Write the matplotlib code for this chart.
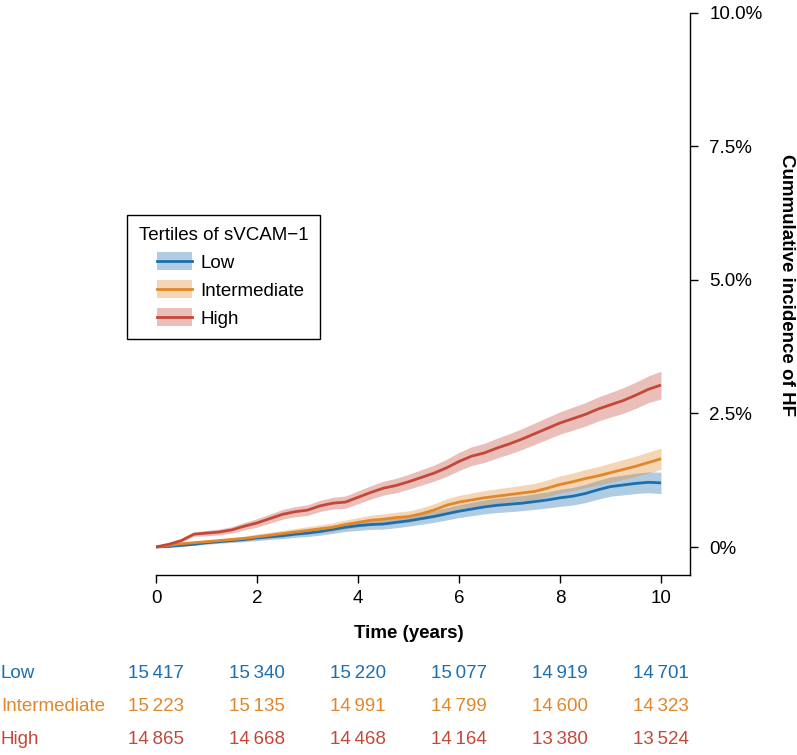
import matplotlib
matplotlib.use("Agg")
import matplotlib.pyplot as plt
from matplotlib.patches import Rectangle
from matplotlib.lines import Line2D
from matplotlib.transforms import blended_transform_factory

plt.rcParams['font.family'] = ['Liberation Sans', 'DejaVu Sans']

# ---------------- data ----------------
time = [0, 0.25, 0.5, 0.75, 1.0, 1.25, 1.5, 1.75, 2.0, 2.25, 2.5, 2.75, 3.0, 3.25,
        3.5, 3.75, 4.0, 4.25, 4.5, 4.75, 5.0, 5.25, 5.5, 5.75, 6.0, 6.25, 6.5, 6.75,
        7.0, 7.25, 7.5, 7.75, 8.0, 8.25, 8.5, 8.75, 9.0, 9.25, 9.5, 9.75, 10.0]

low = [0, 0.01, 0.03, 0.05, 0.08, 0.10, 0.12, 0.14, 0.17, 0.19, 0.21, 0.24, 0.26, 0.29,
       0.33, 0.37, 0.40, 0.42, 0.43, 0.46, 0.49, 0.53, 0.57, 0.62, 0.67, 0.71, 0.75, 0.78,
       0.80, 0.82, 0.85, 0.88, 0.92, 0.95, 1.00, 1.07, 1.13, 1.16, 1.19, 1.21, 1.20]
low_hw = [0, 0.01, 0.015, 0.02, 0.03, 0.03, 0.035, 0.04, 0.05, 0.05, 0.055, 0.06, 0.065, 0.07,
          0.075, 0.08, 0.09, 0.09, 0.095, 0.10, 0.10, 0.105, 0.11, 0.115, 0.12, 0.125, 0.13, 0.135,
          0.14, 0.14, 0.145, 0.15, 0.16, 0.165, 0.17, 0.175, 0.18, 0.185, 0.19, 0.195, 0.20]

inter = [0, 0.03, 0.06, 0.08, 0.10, 0.12, 0.14, 0.16, 0.19, 0.22, 0.25, 0.28, 0.31, 0.34,
         0.37, 0.42, 0.46, 0.50, 0.52, 0.55, 0.57, 0.62, 0.69, 0.78, 0.84, 0.88, 0.92, 0.95,
         0.98, 1.01, 1.04, 1.10, 1.17, 1.22, 1.28, 1.33, 1.39, 1.45, 1.51, 1.58, 1.65]
inter_hw = [0, 0.015, 0.02, 0.025, 0.03, 0.035, 0.04, 0.045, 0.05, 0.055, 0.06, 0.065, 0.07, 0.075,
            0.08, 0.085, 0.09, 0.095, 0.10, 0.10, 0.105, 0.11, 0.115, 0.12, 0.125, 0.13, 0.135, 0.14,
            0.14, 0.145, 0.15, 0.155, 0.16, 0.165, 0.17, 0.175, 0.18, 0.185, 0.19, 0.195, 0.20]

high = [0, 0.05, 0.12, 0.24, 0.26, 0.28, 0.32, 0.39, 0.45, 0.53, 0.61, 0.66, 0.69, 0.77,
        0.82, 0.84, 0.93, 1.02, 1.10, 1.15, 1.22, 1.30, 1.38, 1.48, 1.60, 1.70, 1.76, 1.85,
        1.93, 2.02, 2.12, 2.22, 2.32, 2.40, 2.48, 2.58, 2.66, 2.74, 2.84, 2.95, 3.03]
high_hw = [0, 0.02, 0.03, 0.04, 0.05, 0.055, 0.06, 0.07, 0.08, 0.085, 0.09, 0.095, 0.10, 0.105,
           0.11, 0.115, 0.12, 0.125, 0.13, 0.135, 0.14, 0.145, 0.15, 0.16, 0.17, 0.175, 0.18, 0.185,
           0.19, 0.195, 0.20, 0.205, 0.21, 0.215, 0.22, 0.225, 0.23, 0.24, 0.245, 0.25, 0.26]

groups = ['Low', 'Intermediate', 'High']
colors = ['#1b6fb0', '#e0872b', '#c4483a']
risk_times = [0, 2, 4, 6, 8, 10]
risk_low = [15417, 15340, 15220, 15077, 14919, 14701]
risk_inter = [15223, 15135, 14991, 14799, 14600, 14323]
risk_high = [14865, 14668, 14468, 14164, 13380, 13524]

xticks = [0, 2, 4, 6, 8, 10]
yticks = [0, 2.5, 5.0, 7.5, 10.0]
ytick_labels = ['0%', '2.5%', '5.0%', '7.5%', '10.0%']

# ---------------- figure ----------------
W, H = 797, 755
fig = plt.figure(figsize=(W / 100, H / 100), dpi=100)
ax = fig.add_axes([156 / W, 1 - 575 / H, (690 - 156) / W, (575 - 12.5) / H])

series = [(low, low_hw), (inter, inter_hw), (high, high_hw)]
for (vals, hw), c in zip(series, colors):
    lo = [v - h for v, h in zip(vals, hw)]
    hi = [v + h for v, h in zip(vals, hw)]
    ax.fill_between(time, lo, hi, color=c, alpha=0.35, linewidth=0)
    ax.plot(time, vals, color=c, lw=2.0, solid_capstyle='butt')

ax.set_xlim(0, (690 - 156) / 50.5)
ax.set_ylim(-(575 - 547) / 53.45, 10.0)

for s in ['left', 'top']:
    ax.spines[s].set_visible(False)
ax.spines['bottom'].set_linewidth(1.0)
ax.spines['right'].set_linewidth(1.0)
ax.spines['right'].set_bounds(-(575 - 547) / 53.45, 10.0)

ax.yaxis.tick_right()
ax.set_xticks(xticks)
ax.set_xticklabels([str(t) for t in xticks])
ax.set_yticks(yticks)
ax.set_yticklabels(ytick_labels)
ax.tick_params(axis='both', labelsize=13.5, length=6, width=1.0, direction='out')
ax.tick_params(axis='x', pad=5)
ax.tick_params(axis='y', pad=8)

# axis labels
fig.text(408.5 / W, 1 - 633 / H, 'Time (years)', ha='center', va='center',
         fontsize=13.5, fontweight='bold')
fig.text(786 / W, 1 - 285 / H, 'Cummulative incidence of HF', ha='center', va='center',
         rotation=270, fontsize=13.5, fontweight='bold')

# legend
class BandLineHandler:
    def __init__(self, color, offset_frac):
        self.color = color
        self.offset_frac = offset_frac

    def legend_artist(self, legend, orig_handle, fontsize, handlebox):
        x0, y0 = handlebox.xdescent, handlebox.ydescent
        w, h = handlebox.width, handlebox.height
        off = w * self.offset_frac
        rect = Rectangle((-x0 + off, -y0 - 0.15 * h), w - off, h * 1.3,
                         facecolor=self.color, alpha=0.35, edgecolor='none',
                         transform=handlebox.get_transform())
        line = Line2D([-x0 + off, -x0 + w], [-y0 + h / 2, -y0 + h / 2], color=self.color,
                      lw=2.0, transform=handlebox.get_transform())
        handlebox.add_artist(rect)
        handlebox.add_artist(line)
        return rect

handles = [Rectangle((0, 0), 1, 1) for _ in groups]
hmap = {hd: BandLineHandler(c, 0.34) for hd, c in zip(handles, colors)}
leg = fig.legend(handles, groups, handler_map=hmap, title='Tertiles of sVCAM\u22121',
                 loc='upper left', bbox_to_anchor=(127 / W, 1 - 215 / H), borderaxespad=0,
                 fontsize=13.5, title_fontsize=13.5, alignment='left', frameon=True,
                 fancybox=False, framealpha=1, edgecolor='black', handlelength=2.85,
                 handleheight=0.8, handletextpad=0.45, labelspacing=0.55, borderpad=0.62)
leg.get_frame().set_linewidth(1.0)

# number at risk table
trans = blended_transform_factory(ax.transData, fig.transFigure)
rows = [risk_low, risk_inter, risk_high]
row_y = [673, 706.5, 739]
for g, vals, c, yy in zip(groups, rows, colors, row_y):
    fig.text(1 / W, 1 - yy / H, g, ha='left', va='center', fontsize=13.5, color=c)
    for t, v in zip(risk_times, vals):
        ax.text(t, 1 - yy / H, f"{v:,}".replace(',', '\u2009'), transform=trans,
                ha='center', va='center', fontsize=13.5, color=c, clip_on=False)

fig.savefig('out.png', dpi=100)
